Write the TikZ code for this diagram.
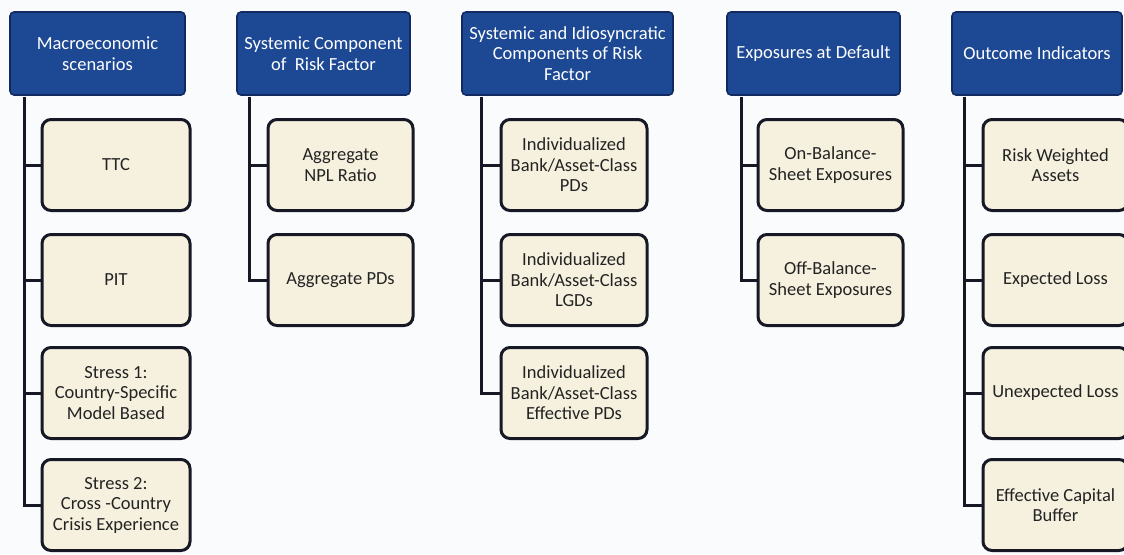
\documentclass[tikz,border=0pt]{standalone}
\usepackage{fontspec}
\setmainfont{Carlito}
\definecolor{bgcol}{RGB}{250,251,253}
\definecolor{headfill}{RGB}{28,72,148}
\definecolor{headborder}{RGB}{18,42,96}
\definecolor{itemfill}{RGB}{246,241,222}
\definecolor{itemborder}{RGB}{22,24,38}
\definecolor{txtcol}{RGB}{35,35,35}
\begin{document}
\begin{tikzpicture}[x=1pt,y=-1pt,
  head/.style={draw=headborder, fill=headfill, line width=1.6pt, rounded corners=4pt,
    text=white, align=center, font=\fontsize{18.5}{20.5}\selectfont, inner sep=0pt,
    minimum height=83},
  item/.style={draw=itemborder, fill=itemfill, line width=3pt, rounded corners=9pt,
    text=txtcol, align=center, font=\fontsize{18.5}{20.5}\selectfont, inner sep=0pt,
    minimum height=91},
  conn/.style={draw=itemborder, line width=3pt}]
\fill[bgcol] (0,0) rectangle (1124,554);
\useasboundingbox (0,0) rectangle (1124,554);
\clip (0,0) rectangle (1124,554);

% headers
\node[head, minimum width=175] (h1) at (97.5,53.5) {Macroeconomic\\scenarios};
\node[head, minimum width=173] (h2) at (323.5,53.5) {Systemic Component\\of\ \ Risk Factor};
\node[head, minimum width=211] (h3) at (567.5,53.5) {Systemic and Idiosyncratic\\Components of Risk\\Factor};
\node[head, minimum width=173] (h4) at (813.5,53.5) {Exposures at Default};
\node[head, minimum width=170] (h5) at (1037,53.5) {Outcome Indicators};

% column 1
\node[item, minimum width=148] (c11) at (116,165) {TTC};
\node[item, minimum width=148] (c12) at (116,280) {PIT};
\node[item, minimum width=148] (c13) at (116,393) {Stress 1:\\Country-Specific\\Model Based};
\node[item, minimum width=148] (c14) at (116,505) {Stress 2:\\Cross -Country\\Crisis Experience};
% column 2
\node[item, minimum width=145] (c21) at (340.5,165) {Aggregate\\NPL Ratio};
\node[item, minimum width=145] (c22) at (340.5,280) {Aggregate PDs};
% column 3
\node[item, minimum width=146] (c31) at (574,165) {Individualized\\Bank/Asset-Class\\PDs};
\node[item, minimum width=146] (c32) at (574,280) {Individualized\\Bank/Asset-Class\\LGDs};
\node[item, minimum width=146] (c33) at (574,393) {Individualized\\Bank/Asset-Class\\Effective PDs};
% column 4
\node[item, minimum width=145] (c41) at (830.5,165) {On-Balance-\\Sheet Exposures};
\node[item, minimum width=145] (c42) at (830.5,280) {Off-Balance-\\Sheet Exposures};
% column 5
\node[item, minimum width=145] (c51) at (1055.5,165) {Risk Weighted\\Assets};
\node[item, minimum width=145] (c52) at (1055.5,280) {Expected Loss};
\node[item, minimum width=145] (c53) at (1055.5,393) {Unexpected Loss};
\node[item, minimum width=145] (c54) at (1055.5,505) {Effective Capital\\Buffer};

% connectors
\coordinate (t1) at ([xshift=15pt,yshift=-1pt]h1.south west);
\coordinate (t2) at ([xshift=13pt,yshift=-1pt]h2.south west);
\coordinate (t3) at ([xshift=20pt,yshift=-1pt]h3.south west);
\coordinate (t4) at ([xshift=15pt,yshift=-1pt]h4.south west);
\coordinate (t5) at ([xshift=13pt,yshift=-1pt]h5.south west);
\foreach \c in {c11,c12,c13,c14} \draw[conn] (t1) |- (\c.west);
\foreach \c in {c21,c22} \draw[conn] (t2) |- (\c.west);
\foreach \c in {c31,c32,c33} \draw[conn] (t3) |- (\c.west);
\foreach \c in {c41,c42} \draw[conn] (t4) |- (\c.west);
\foreach \c in {c51,c52,c53,c54} \draw[conn] (t5) |- (\c.west);
\end{tikzpicture}
\end{document}
